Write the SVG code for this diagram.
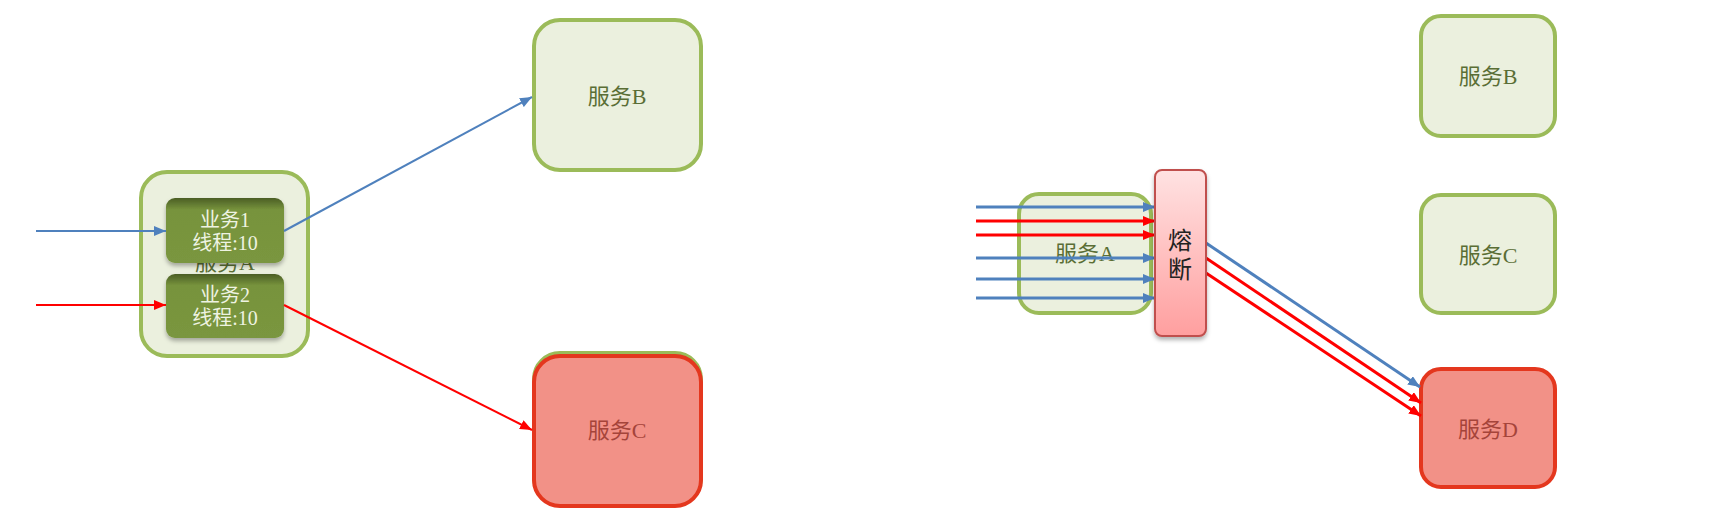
<svg xmlns="http://www.w3.org/2000/svg" width="1726" height="528" viewBox="0 0 1726 528">
<style>
.g{fill:#EBF0DE;stroke:#9BBB59;stroke-width:4}
.r{fill:#F29187;stroke:#E4371E;stroke-width:4}
.t{font-family:"Liberation Serif","Noto Sans CJK SC",serif;font-size:22px;text-anchor:middle;dominant-baseline:central}
.tg{fill:#5A6E35}
.tr{fill:#A5443A}
.in{font-family:"Liberation Serif","Noto Sans CJK SC",serif;font-size:20px;text-anchor:middle;dominant-baseline:central;fill:#EEF3E2}
.fz{font-family:"Noto Sans CJK SC",sans-serif;font-size:24px;text-anchor:middle;dominant-baseline:central;fill:#222}
.lb{stroke:#4F81BD;stroke-width:2;fill:none}
.lr{stroke:#FF0000;stroke-width:2;fill:none}
.wb{stroke:#4F81BD;stroke-width:3;fill:none}
.wr{stroke:#FF0000;stroke-width:3;fill:none}
</style>
<defs>
<marker id="ab" markerUnits="userSpaceOnUse" markerWidth="12" markerHeight="10" refX="12" refY="5" orient="auto"><path d="M0,0 L12,5 L0,10 z" fill="#4F81BD"/></marker>
<marker id="ar" markerUnits="userSpaceOnUse" markerWidth="12" markerHeight="10" refX="12" refY="5" orient="auto"><path d="M0,0 L12,5 L0,10 z" fill="#FF0000"/></marker>
<linearGradient id="ig" x1="0" y1="0" x2="0" y2="1">
<stop offset="0" stop-color="#4B5E25"/>
<stop offset="0.18" stop-color="#77933C"/>
<stop offset="1" stop-color="#7A963F"/>
</linearGradient>
<linearGradient id="fg" x1="0" y1="0" x2="0" y2="1">
<stop offset="0" stop-color="#FFE2E2"/>
<stop offset="1" stop-color="#FF9F9F"/>
</linearGradient>
<filter id="sh" x="-20%" y="-20%" width="140%" height="140%">
<feDropShadow dx="0" dy="3" stdDeviation="2" flood-color="#000" flood-opacity="0.3"/>
</filter>
</defs>

<g id="left-serviceA">
<rect class="g" x="141" y="172" width="167" height="184" rx="26"/>
<text class="t tg" x="225" y="262">服务A</text>
</g>
<g id="left-biz1">
<rect x="166" y="198" width="118" height="65" rx="9" fill="url(#ig)" filter="url(#sh)"/>
<text class="in" x="225" y="220">业务1</text>
<text class="in" x="225" y="243">线程:10</text>
</g>
<g id="left-biz2">
<rect x="166" y="274" width="118" height="64" rx="9" fill="url(#ig)" filter="url(#sh)"/>
<text class="in" x="225" y="295">业务2</text>
<text class="in" x="225" y="318">线程:10</text>
</g>
<g id="left-serviceB">
<rect class="g" x="534" y="20" width="167" height="150" rx="26"/>
<text class="t tg" x="617" y="96">服务B</text>
</g>
<g id="left-serviceC">
<rect class="g" x="534" y="353" width="167" height="150" rx="26"/>
<rect class="r" x="534" y="356" width="167" height="150" rx="26"/>
<text class="t tr" x="617" y="430">服务C</text>
</g>

<g id="right-serviceA">
<rect class="g" x="1019" y="194" width="132" height="119" rx="20"/>
<text class="t tg" x="1085" y="253">服务A</text>
</g>
<g id="right-serviceB">
<rect class="g" x="1421" y="16" width="134" height="120" rx="20"/>
<text class="t tg" x="1488" y="76">服务B</text>
</g>
<g id="right-serviceC">
<rect class="g" x="1421" y="195" width="134" height="118" rx="20"/>
<text class="t tg" x="1488" y="255">服务C</text>
</g>
<g id="right-serviceD">
<rect class="r" x="1421" y="369" width="134" height="118" rx="20"/>
<text class="t tr" x="1488" y="429">服务D</text>
</g>

<g id="connectors">
<line class="lb" x1="36" y1="231" x2="166" y2="231" marker-end="url(#ab)"/>
<line class="lr" x1="36" y1="305" x2="166" y2="305" marker-end="url(#ar)"/>
<line class="lb" x1="284" y1="231" x2="532" y2="97" marker-end="url(#ab)"/>
<line class="lr" x1="284" y1="305" x2="532" y2="430" marker-end="url(#ar)"/>
<line class="wb" x1="976" y1="207" x2="1155" y2="207" marker-end="url(#ab)"/>
<line class="wr" x1="976" y1="221" x2="1155" y2="221" marker-end="url(#ar)"/>
<line class="wr" x1="976" y1="235" x2="1155" y2="235" marker-end="url(#ar)"/>
<line class="wb" x1="976" y1="258" x2="1155" y2="258" marker-end="url(#ab)"/>
<line class="wb" x1="976" y1="279" x2="1155" y2="279" marker-end="url(#ab)"/>
<line class="wb" x1="976" y1="298" x2="1155" y2="298" marker-end="url(#ab)"/>
<line class="wb" x1="1206" y1="243" x2="1420" y2="387" marker-end="url(#ab)"/>
<line class="wr" x1="1206" y1="258" x2="1421" y2="403" marker-end="url(#ar)"/>
<line class="wr" x1="1206" y1="273" x2="1421" y2="416" marker-end="url(#ar)"/>
</g>

<g id="fuse">
<rect x="1155" y="170" width="51" height="166" rx="7" fill="url(#fg)" stroke="#C0504D" stroke-width="2" filter="url(#sh)"/>
<text class="fz" x="1180" y="238">熔</text>
<text class="fz" x="1180" y="267">断</text>
</g>
</svg>
